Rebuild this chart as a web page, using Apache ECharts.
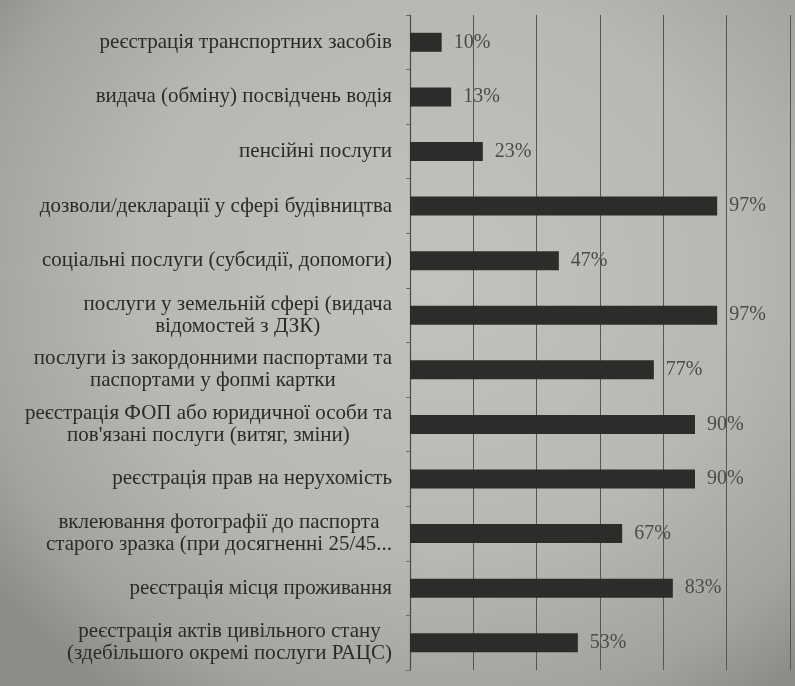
<!DOCTYPE html>
<html>
<head>
<meta charset="utf-8">
<script src="https://cdn.jsdelivr.net/npm/echarts@6/dist/echarts.min.js"></script>
<style>
  html, body { margin: 0; padding: 0; }
  #chart {
    width: 795px; height: 686px;
    background: radial-gradient(ellipse 70% 75% at 55% 40%, #c2c3be 0%, #b7b8b3 55%, #a2a39f 85%, #8c8d89 100%);
  }
</style>
</head>
<body>
<div id="chart"></div>
<script>
// Service categories, top to bottom
const categories = [
  'реєстрація транспортних засобів',
  'видача (обміну) посвідчень водія',
  'пенсійні послуги',
  'дозволи/декларації у сфері будівництва',
  'соціальні послуги (субсидії, допомоги)',
  'послуги у земельній сфері (видача\nвідомостей з ДЗК)',
  'послуги із закордонними паспортами та\nпаспортами у фопмі картки',
  'реєстрація ФОП або юридичної особи та\nпов\'язані послуги (витяг, зміни)',
  'реєстрація прав на нерухомість',
  'вклеювання фотографії до паспорта\nстарого зразка (при досягненні 25/45...',
  'реєстрація місця проживання',
  'реєстрація актів цивільного стану\n(здебільшого окремі послуги РАЦС)'
];

// Share of centres offering each service, %
const shares = [10, 13, 23, 97, 47, 97, 77, 90, 90, 67, 83, 53];

// Value axis ticks
const axisMin = 0;
const axisMax = 120;
const axisStep = 20;

const chart = echarts.init(document.getElementById('chart'), null, { renderer: 'canvas' });

chart.setOption({
  backgroundColor: 'transparent',
  animation: false,
  grid: { left: 410, right: 5, top: 15, bottom: 16, containLabel: false },
  xAxis: {
    type: 'value',
    min: axisMin,
    max: axisMax,
    interval: axisStep,
    axisLine: { show: false },
    axisTick: { show: false },
    axisLabel: { show: false },
    splitLine: { show: true, lineStyle: { color: '#555653', width: 1 } }
  },
  yAxis: {
    type: 'category',
    inverse: true,
    data: categories,
    axisLine: { show: true, lineStyle: { color: '#4a4b48', width: 1.2 } },
    axisTick: { show: true, length: 4, inside: false, lineStyle: { color: '#6a6b68' } },
    axisLabel: {
      margin: 18,
      fontFamily: 'Liberation Serif',
      fontSize: 21,
      color: '#2a2a28',
      lineHeight: 22,
      formatter: function (v) {
        return v.split('\n').map(function (s) { return '{c|' + s + '}'; }).join('\n');
      },
      rich: {
        c: {
          align: 'center',
          fontFamily: 'Liberation Serif',
          fontSize: 21,
          color: '#2a2a28',
          lineHeight: 22
        }
      }
    }
  },
  series: [{
    type: 'bar',
    data: shares,
    barWidth: 19,
    itemStyle: { color: '#2c2c2a' },
    label: {
      show: true,
      position: 'right',
      distance: 12,
      fontFamily: 'Liberation Serif',
      fontSize: 20,
      color: '#4b4b48',
      formatter: '{c}%'
    }
  }]
});
</script>
</body>
</html>
